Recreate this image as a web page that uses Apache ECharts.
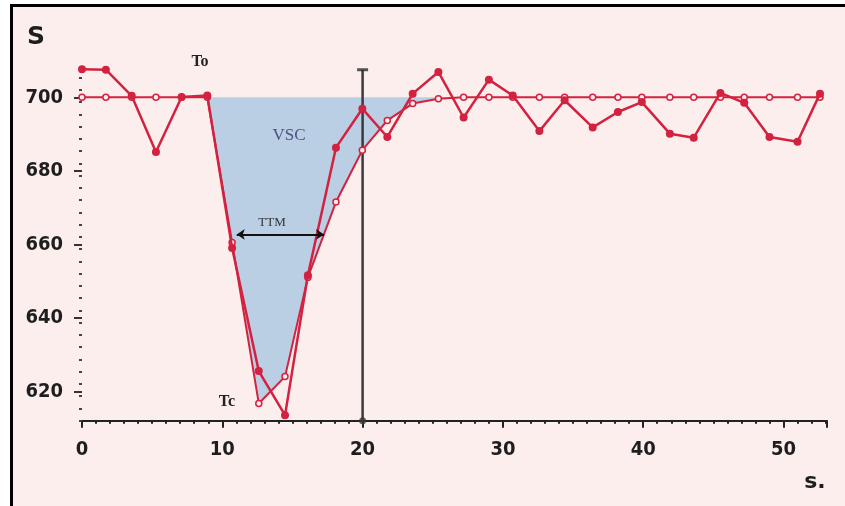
<!DOCTYPE html>
<html><head><meta charset="utf-8">
<script src="https://cdn.jsdelivr.net/npm/echarts@6/dist/echarts.min.js"></script>
<style>html,body{margin:0;padding:0;background:#fff;}#c{width:845px;height:506px;}</style>
</head><body><div id="c"></div>
<script>
// time (s) of each sample
const times = [0, 1.7, 3.54, 5.27, 7.1, 8.93, 10.7, 12.6, 14.47, 16.1, 18.1, 19.98, 21.76, 23.57, 25.4, 27.2, 29.0, 30.7, 32.6, 34.4, 36.4, 38.2, 39.9, 41.9, 43.6, 45.5, 47.2, 49.0, 51.0, 52.6];
// measured signal (filled markers)
const measured = [707.6, 707.5, 700.4, 685.1, 700.1, 700.5, 659, 625.5, 613.5, 651.6, 686.3, 696.9, 689.2, 701, 706.9, 694.5, 704.8, 700.5, 690.8, 699.2, 691.8, 696, 698.7, 690.1, 689, 701.2, 698.5, 689.2, 687.9, 701];
// model curve (hollow markers)
const model = [700, 700, 700, 700, 700, 700, 660.5, 616.7, 624, 651, 671.5, 685.6, 693.7, 698.3, 699.6, 700, 700, 700, 700, 700, 700, 700, 700, 700, 700, 700, 700, 700, 700, 700];
const baseline = 700;
const xTickLabels = [0, 10, 20, 30, 40, 50];
const yTickLabels = [620, 640, 660, 680, 700];
const cursorX = [20, 20];
const cursorY = [612, 707.5];
const ttmX = [11.03, 17.25];
const ttmY = 662.7;

const RED = '#d3223f';
const modelData = times.map((t, i) => [t, model[i]]);
const measData = times.map((t, i) => [t, measured[i]]);
const minorY = [];
for (let v = 612; v <= 707; v += 20 / 6) {
  const r = Math.round(v * 100) / 100;
  if (Math.abs(((r - 620) / 20) - Math.round((r - 620) / 20)) > 0.01) minorY.push(r);
}

const chart = echarts.init(document.getElementById('c'));
const axisFont = {fontFamily: '"DejaVu Sans Condensed","DejaVu Sans",sans-serif', fontWeight: 'bold', fontSize: 20, color: '#1e1e1e'};
function txt(x, y, text, size, weight, family, fill) {
  return {type: 'text', x: x, y: y, z: 100, zlevel: 0, silent: true,
    style: {text: text, fontSize: size, fontWeight: weight, fontFamily: family, fill: fill, align: 'center', verticalAlign: 'middle'}};
}
chart.setOption({
  animation: false,
  backgroundColor: '#fdeeee',
  grid: {left: 82, right: 18, top: 53.2, bottom: 85.3},
  xAxis: {
    type: 'value', min: 0, max: 53.1, interval: 10,
    axisLine: {show: true, onZero: false, lineStyle: {color: '#222', width: 2}},
    axisTick: {show: true, length: 7, lineStyle: {color: '#222', width: 2}},
    minorTick: {show: true, splitNumber: 10, length: 3, lineStyle: {color: '#222', width: 2}},
    splitLine: {show: false},
    axisLabel: Object.assign({margin: 19, formatter: v => (xTickLabels.indexOf(v) >= 0 ? String(v) : '')}, axisFont)
  },
  yAxis: [{
    type: 'value', min: 612, max: 712,
    axisLine: {show: false},
    axisTick: {show: true, length: 8, customValues: yTickLabels, lineStyle: {color: '#333', width: 2}},
    splitLine: {show: false},
    axisLabel: Object.assign({margin: 19, customValues: yTickLabels}, axisFont)
  }, {
    type: 'value', min: 612, max: 712, position: 'left',
    axisLine: {show: false},
    axisTick: {show: true, length: 3, customValues: minorY, lineStyle: {color: '#444', width: 2}},
    splitLine: {show: false},
    axisLabel: {show: false}
  }],
  series: [
    {
      name: 'area', type: 'line', data: modelData, symbol: 'none', z: 1,
      lineStyle: {opacity: 0},
      areaStyle: {origin: baseline, color: '#bacee4', opacity: 1}
    },
    {
      name: 'cursor', type: 'line', data: cursorX.map((x, i) => [x, cursorY[i]]), symbol: 'none', z: 2,
      lineStyle: {color: '#3a3a3a', width: 2.5}
    },
    {
      name: 'cursorCap', type: 'scatter', data: [[cursorX[1], cursorY[1]]], symbol: 'rect', symbolSize: [11, 3], z: 2,
      itemStyle: {color: '#2a2a2a'}
    },
    {
      name: 'cursorFoot', type: 'scatter', data: [[cursorX[0], cursorY[0]]], symbol: 'circle', symbolSize: 7, z: 2,
      itemStyle: {color: '#3a3a3a'}
    },
    {
      name: 'model', type: 'line', data: modelData, z: 3,
      symbol: 'circle', symbolSize: 6, showSymbol: true,
      lineStyle: {color: RED, width: 2},
      itemStyle: {color: '#fdeeee', borderColor: RED, borderWidth: 1.5}
    },
    {
      name: 'measured', type: 'line', data: measData, z: 4,
      symbol: 'circle', symbolSize: 8, showSymbol: true,
      lineStyle: {color: RED, width: 2.5},
      itemStyle: {color: RED}
    },
    {
      name: 'ttm', type: 'line', data: [], z: 5,
      markLine: {
        silent: true, symbol: ['arrow', 'arrow'], symbolSize: 8,
        label: {show: false},
        lineStyle: {color: '#111', width: 2, type: 'solid'},
        data: [[{coord: [ttmX[0], ttmY]}, {coord: [ttmX[1], ttmY]}]]
      }
    }
  ],
  graphic: [
    {type: 'rect', z: 100, shape: {x: 0, y: 0, width: 10, height: 506}, style: {fill: '#fff'}, silent: true},
    {type: 'rect', z: 100, shape: {x: 0, y: 0, width: 845, height: 4}, style: {fill: '#fff'}, silent: true},
    {type: 'line', z: 100, shape: {x1: 11.5, y1: 4, x2: 11.5, y2: 506}, style: {stroke: '#000', lineWidth: 3}},
    {type: 'line', z: 100, shape: {x1: 10, y1: 5.5, x2: 845, y2: 5.5}, style: {stroke: '#000', lineWidth: 3}},
    txt(36, 37, 'S', 25, 'bold', '"DejaVu Sans", sans-serif', '#1e1e1e'),
    txt(815, 482, 's.', 22, 'bold', '"DejaVu Sans", sans-serif', '#1e1e1e'),
    txt(200, 62, 'To', 16, 'bold', '"Liberation Serif", serif', '#222'),
    txt(227, 402, 'Tc', 16, 'bold', '"Liberation Serif", serif', '#222'),
    txt(289, 136, 'VSC', 17, 'normal', '"Liberation Serif", serif', '#4a5382'),
    txt(272, 223, 'TTM', 13, 'normal', '"Liberation Serif", serif', '#333')
  ]
});
</script></body></html>
